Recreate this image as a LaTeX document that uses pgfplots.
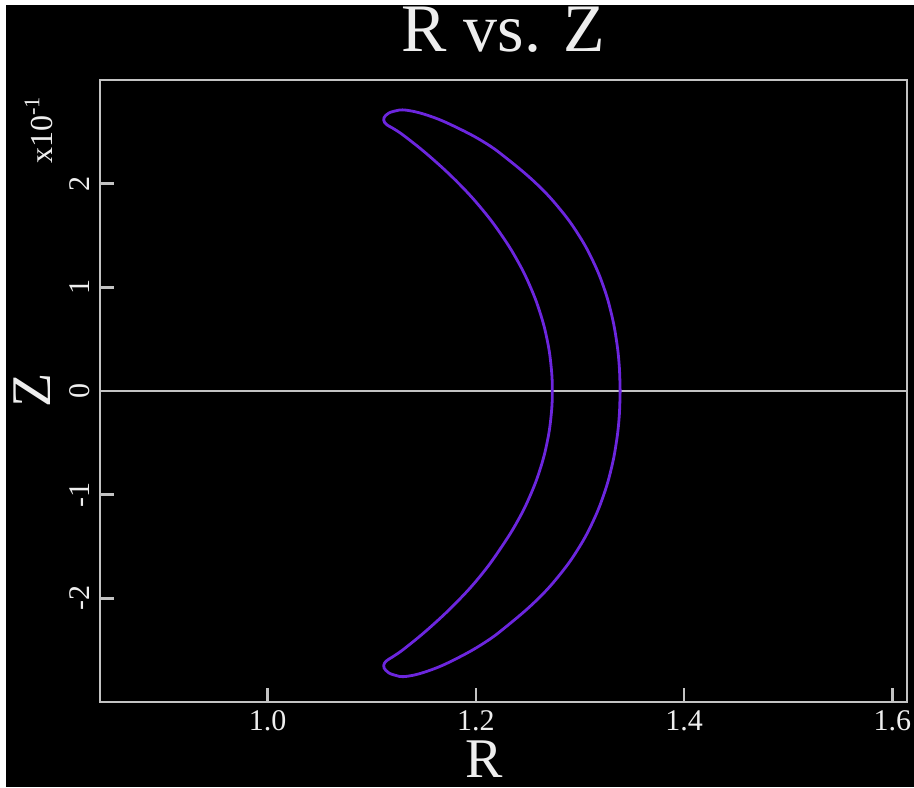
\documentclass[border=0pt]{standalone}
\usepackage{fontspec}
\setmainfont{Liberation Serif}
\usepackage{pgfplots}
\pgfplotsset{compat=1.18}

\definecolor{orbit}{RGB}{108,38,222}
\definecolor{frame}{RGB}{195,195,195}
\definecolor{labeltext}{RGB}{238,238,238}

% Guiding-centre orbit in the poloidal plane: outer leg, tip, inner leg (upper half),
% then the lower half back to the start.
\pgfplotstableread{
R       Z
1.3385  0.0000
1.3376  0.0250
1.3348  0.0500
1.3300  0.0750
1.3228  0.1000
1.3126  0.1250
1.2990  0.1500
1.2811  0.1750
1.2581  0.2000
1.2288  0.2250
1.2079  0.2400
1.1820  0.2540
1.1570  0.2648
1.1340  0.2708
1.1210  0.2698
1.1135  0.2660
1.1115  0.2612
1.1145  0.2568
1.1210  0.2530
1.1326  0.2450
1.1571  0.2250
1.1837  0.2000
1.2062  0.1750
1.2249  0.1500
1.2403  0.1250
1.2525  0.1000
1.2618  0.0750
1.2683  0.0500
1.2721  0.0250
1.2734  0.0000
1.2721 -0.0250
1.2683 -0.0500
1.2618 -0.0750
1.2525 -0.1000
1.2403 -0.1250
1.2249 -0.1500
1.2062 -0.1760
1.1837 -0.2015
1.1571 -0.2270
1.1326 -0.2475
1.1210 -0.2558
1.1145 -0.2600
1.1115 -0.2645
1.1135 -0.2695
1.1210 -0.2738
1.1340 -0.2752
1.1570 -0.2690
1.1820 -0.2578
1.2079 -0.2430
1.2288 -0.2275
1.2581 -0.2020
1.2811 -0.1765
1.2990 -0.1510
1.3126 -0.1255
1.3228 -0.1000
1.3300 -0.0750
1.3348 -0.0500
1.3376 -0.0250
1.3385  0.0000
}\orbitdata

\begin{document}
\begin{tikzpicture}
% page and plot background
\useasboundingbox (0pt,0pt) rectangle (457pt,-393.5pt);
\fill[white] (0pt,0pt) rectangle (457pt,-393.5pt);
\fill[black] (3pt,-2.5pt) rectangle (457pt,-393.5pt);

\begin{axis}[
  at={(50pt,-351pt)}, anchor=south west,
  scale only axis,
  width=403.5pt, height=311pt,
  xmin=0.839, xmax=1.614,
  ymin=-0.3, ymax=0.3,
  axis line style={draw=frame, line width=1.3pt},
  every tick/.style={draw=frame, line width=1.3pt},
  major tick length=7pt,
  tick align=inside,
  xtick pos=bottom, ytick pos=left,
  xtick={1.0,1.2,1.4,1.6},
  xticklabels={1.0,1.2,1.4,1.6},
  ytick={-0.2,-0.1,0,0.1,0.2},
  yticklabels={-2,-1,0,1,2},
  tick label style={text=labeltext, font=\fontsize{15}{18}\selectfont},
  xticklabel style={anchor=north, inner sep=4pt},
  yticklabel style={rotate=90, anchor=south, inner sep=5pt},
  clip=true,
]
\addplot[draw=frame, line width=1.2pt] coordinates {(0.839,0) (1.614,0)};
\addplot[draw=orbit, line width=1.4pt, smooth, tension=0.7] table[x=R, y=Z] {\orbitdata};
\end{axis}

% title, axis labels and the exponent of the Z scale
\node[anchor=base, text=labeltext, font=\fontsize{34}{40}\selectfont] at (251.75pt,-25.8pt) {R vs. Z};
\node[anchor=base, text=labeltext, font=\fontsize{28}{32}\selectfont] at (242pt,-388.5pt) {R};
\node[anchor=base, rotate=90, text=labeltext, font=\fontsize{28}{32}\selectfont] at (25pt,-195pt) {Z};
\node[anchor=base west, rotate=90, text=labeltext, font=\fontsize{16}{19}\selectfont, inner sep=0pt] at (26pt,-82pt) {x10\textsuperscript{-1}};
\end{tikzpicture}
\end{document}
